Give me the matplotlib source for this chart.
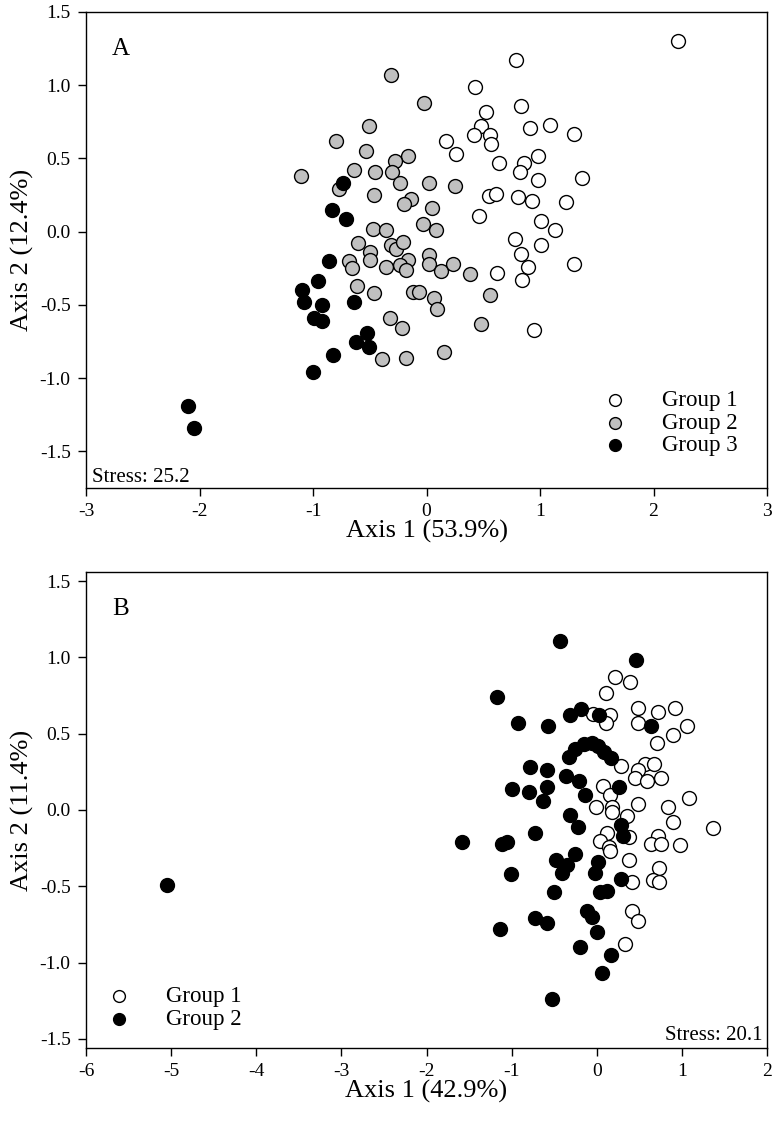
import matplotlib
matplotlib.use("Agg")
import matplotlib.pyplot as plt
import numpy as np

plt.rcParams['font.family'] = ['Liberation Serif', 'DejaVu Serif']
plt.rcParams['axes.unicode_minus'] = False

# ---- panel A data (NMDS scores) ----
a_g1_x = [2.22, 0.79, 0.43, 0.52, 0.83, 0.48, 0.42, 0.56, 0.57, 0.91, 1.09, 1.30,
          0.17, 0.26, 0.64, 0.98, 0.86, 0.82, 0.98, 1.37, 0.55, 0.61, 0.81, 0.93,
          1.23, 0.46, 1.01, 1.13, 0.78, 1.01, 0.83, 1.30, 0.89, 0.62, 0.84, 0.95]
a_g1_y = [1.30, 1.17, 0.99, 0.82, 0.86, 0.72, 0.66, 0.66, 0.60, 0.71, 0.73, 0.67,
          0.62, 0.53, 0.47, 0.52, 0.47, 0.41, 0.35, 0.37, 0.245, 0.255, 0.24, 0.21,
          0.20, 0.11, 0.07, 0.01, -0.05, -0.09, -0.15, -0.22, -0.24, -0.28, -0.33, -0.67]

a_g2_x = [-0.31, -0.02, -0.51, -0.80, -0.53, -0.16, -0.28, -0.30, -0.64, -0.45, -1.11,
          -0.77, -0.23, 0.02, 0.25, -0.46, -0.14, -0.20, 0.05, -0.03, 0.08, -0.47, -0.36,
          -0.60, -0.50, -0.50, -0.68, -0.66, -0.31, -0.27, -0.21, -0.16, -0.23, -0.18,
          -0.36, 0.02, 0.02, 0.13, 0.23, 0.38, -0.61, -0.46, -0.12, -0.07, 0.07, 0.09,
          -0.32, -0.22, -0.39, -0.18, 0.15, 0.56, 0.48]
a_g2_y = [1.07, 0.88, 0.72, 0.62, 0.55, 0.52, 0.48, 0.41, 0.42, 0.41, 0.38,
          0.29, 0.33, 0.33, 0.31, 0.25, 0.22, 0.19, 0.16, 0.05, 0.01, 0.02, 0.01,
          -0.08, -0.14, -0.19, -0.20, -0.25, -0.09, -0.12, -0.07, -0.19, -0.23, -0.26,
          -0.24, -0.16, -0.22, -0.27, -0.22, -0.29, -0.37, -0.42, -0.41, -0.41, -0.45, -0.53,
          -0.59, -0.66, -0.87, -0.86, -0.82, -0.43, -0.63]

a_g3_x = [-0.74, -0.83, -0.71, -0.86, -0.96, -1.10, -1.08, -0.92, -0.99, -0.92,
          -0.64, -0.52, -0.62, -0.51, -0.82, -1.00, -2.10, -2.05]
a_g3_y = [0.33, 0.15, 0.09, -0.20, -0.34, -0.40, -0.48, -0.50, -0.59, -0.61,
          -0.48, -0.69, -0.75, -0.79, -0.84, -0.96, -1.19, -1.34]

# ---- panel B data ----
b_g1_x = [0.21, 0.11, -0.04, 0.15, 0.11, 0.39, 0.49, 0.72, 0.92, 0.49, 1.06, 0.89,
          0.71, 0.28, 0.57, 0.67, 0.49, 0.45, 0.59, 0.76, 0.07, 0.16, 1.08, 0.49,
          0.84, -0.01, 0.18, 0.18, 0.36, 0.12, 0.38, 0.89, 1.36, 0.72, 0.64, 0.76,
          0.98, 0.04, 0.14, 0.16, 0.38, 0.73, 0.66, 0.73, 0.41, 0.41, 0.48, 0.33]
b_g1_y = [0.87, 0.77, 0.63, 0.62, 0.57, 0.84, 0.67, 0.64, 0.67, 0.57, 0.55, 0.49,
          0.44, 0.29, 0.30, 0.30, 0.26, 0.21, 0.19, 0.21, 0.16, 0.10, 0.08, 0.04,
          0.02, 0.02, 0.02, -0.01, -0.04, -0.15, -0.18, -0.08, -0.12, -0.17, -0.22, -0.22,
          -0.23, -0.20, -0.24, -0.27, -0.33, -0.38, -0.46, -0.47, -0.47, -0.66, -0.73, -0.88]

b_g2_x = [-0.43, -1.17, -0.92, -0.57, -0.32, -0.18, 0.03, 0.46, 0.64,
          -0.33, -0.25, -0.15, -0.06, 0.02, 0.09, 0.17,
          -0.79, -0.59, -0.36, -0.21, -0.14, -0.58, -1.00, -0.80, -0.63, 0.26,
          -0.31, -0.22, -0.72, -1.11, -1.06, -1.58, 0.29, 0.31,
          -0.26, -0.48, -0.35, -0.41, 0.02, -0.02, -1.01, 0.28,
          -0.50, 0.04, 0.12, -0.11, -0.05, -0.73, -0.58, -1.14, 0.00, -0.20, 0.17,
          0.06, -0.53, -5.05]
b_g2_y = [1.11, 0.74, 0.57, 0.55, 0.62, 0.66, 0.62, 0.98, 0.55,
          0.35, 0.40, 0.43, 0.44, 0.42, 0.38, 0.34,
          0.28, 0.26, 0.22, 0.19, 0.10, 0.15, 0.14, 0.12, 0.06, 0.15,
          -0.03, -0.11, -0.15, -0.22, -0.21, -0.21, -0.10, -0.17,
          -0.29, -0.33, -0.36, -0.41, -0.34, -0.41, -0.42, -0.45,
          -0.54, -0.54, -0.53, -0.66, -0.70, -0.71, -0.74, -0.78, -0.80, -0.90, -0.95,
          -1.07, -1.24, -0.49]

W, H = 777, 1135
fig = plt.figure(figsize=(W / 100, H / 100), dpi=100)
axA = fig.add_axes([86 / W, 1 - 488 / H, 681 / W, 476 / H])
axB = fig.add_axes([86 / W, 1 - 1048 / H, 681 / W, 476 / H])

mk = dict(s=100, edgecolors='black', linewidths=1.0, zorder=3)
LAB = 19
TICK = 14
LEG = 16.5

def style(ax):
    ax.tick_params(direction='out', length=6, width=1, labelsize=TICK, pad=5,
                   top=False, right=False)
    for sp in ax.spines.values():
        sp.set_linewidth(1.0)

def legend(ax, x0, y0):
    ax.legend(loc='upper left', bbox_to_anchor=(x0, y0), frameon=False,
              fontsize=LEG, markerscale=0.85, handlelength=1.0,
              handletextpad=1.55, labelspacing=0.06, borderpad=0,
              borderaxespad=0)

# panel A
axA.scatter(a_g1_x, a_g1_y, c='white', label='Group 1', **mk)
axA.scatter(a_g2_x, a_g2_y, c='#c0c0c0', label='Group 2', **mk)
axA.scatter(a_g3_x, a_g3_y, c='black', label='Group 3', **mk)
axA.set_xlim(-3, 3)
axA.set_ylim(-1.75, 1.5)
axA.set_xticks(np.arange(-3, 4, 1))
axA.set_yticks(np.arange(-1.5, 1.51, 0.5))
axA.set_yticklabels([f"{v:.1f}" for v in np.arange(-1.5, 1.51, 0.5)])
axA.set_xlabel('Axis 1 (53.9%)', fontsize=LAB, labelpad=0)
axA.set_ylabel('Axis 2 (12.4%)', fontsize=LAB, labelpad=4)
axA.text(0.038, 0.91, 'A', transform=axA.transAxes, fontsize=18, va='baseline')
axA.text(0.009, 0.013, 'Stress: 25.2', transform=axA.transAxes, fontsize=15,
         va='baseline')
legend(axA, 0.760, 0.205)
style(axA)

# panel B
axB.scatter(b_g1_x, b_g1_y, c='white', label='Group 1', **mk)
axB.scatter(b_g2_x, b_g2_y, c='black', label='Group 2', **mk)
axB.set_xlim(-6, 2)
axB.set_ylim(-1.56, 1.56)
axB.set_xticks(np.arange(-6, 3, 1))
axB.set_yticks(np.arange(-1.5, 1.51, 0.5))
axB.set_yticklabels([f"{v:.1f}" for v in np.arange(-1.5, 1.51, 0.5)])
axB.set_xlabel('Axis 1 (42.9%)', fontsize=LAB, labelpad=0)
axB.set_ylabel('Axis 2 (11.4%)', fontsize=LAB, labelpad=4)
axB.text(0.038, 0.91, 'B', transform=axB.transAxes, fontsize=18, va='baseline')
axB.text(0.994, 0.017, 'Stress: 20.1', transform=axB.transAxes, fontsize=15,
         ha='right', va='baseline')
legend(axB, 0.0316, 0.13)
style(axB)

fig.savefig('out.png', dpi=100)
